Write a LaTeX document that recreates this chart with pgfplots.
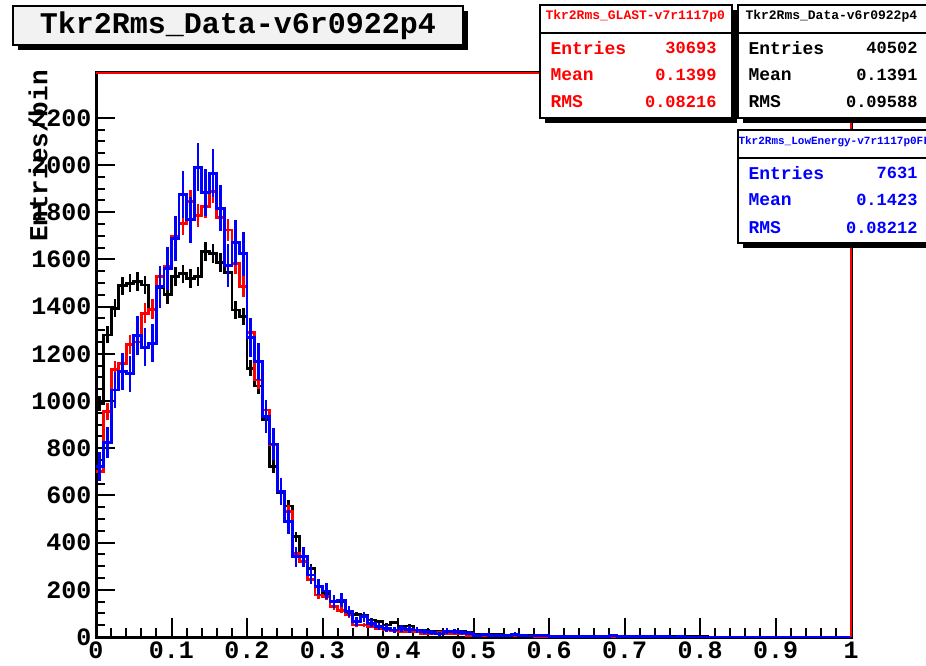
\documentclass[border=0pt]{standalone}
\usepackage{pgfplots}
\pgfplotsset{compat=1.18}
\usepackage{pgfplotstable}
\usepackage{fontspec}
\setmainfont{Liberation Mono}

% bin low edge, black = Data, red = GLAST, blue = LowEnergy
\pgfplotstableread{
x k r b
0.00 990 700 722
0.01 1280 955 824
0.02 1393 1132 1047
0.03 1488 1160 1125
0.04 1499 1238 1115
0.05 1506 1250 1276
0.06 1492 1372 1228
0.07 1386 1389 1245
0.08 1480 1527 1485
0.09 1450 1570 1560
0.10 1527 1697 1690
0.11 1539 1753 1874
0.12 1520 1845 1768
0.13 1527 1785 1991
0.14 1633 1824 1883
0.15 1624 1888 1965
0.16 1587 1779 1817
0.17 1545 1725 1573
0.18 1386 1584 1672
0.19 1358 1485 1624
0.20 1139 1290 1270
0.21 1064 1089 1167
0.22 920 962 934
0.23 722 814 818
0.24 612 616 616
0.25 555 531 489
0.26 425 355 340
0.27 340 319 340
0.28 291 242 263
0.29 213 178 213
0.30 186 171 195
0.31 150 128 150
0.32 150 114 157
0.33 100 93 107
0.34 97 51 65
0.35 93 51 86
0.36 72 44 58
0.37 65 37 44
0.38 51 30 37
0.39 62 27 30
0.40 44 23 37
0.41 47 23 32
0.42 30 23 30
0.43 27 16 23
0.44 23 16 18
0.45 23 18 13
0.46 18 16 25
0.47 16 13 23
0.48 23 13 18
0.49 18 8 16
0.50 13 8 8
0.51 12 7 10
0.52 10 6 8
0.53 9 6 6
0.54 8 5 7
0.55 7 5 12
0.56 6 4 5
0.57 6 4 4
0.58 5 3 5
0.59 5 3 8
0.60 4 3 3
0.61 4 2 3
0.62 3 2 2
0.63 3 2 2
0.64 3 2 3
0.65 3 1 2
0.66 2 1 2
0.67 2 1 3
0.68 2 1 8
0.69 2 1 3
0.70 2 1 2
0.71 2 1 1
0.72 1 1 2
0.73 1 1 1
0.74 1 1 1
0.75 1 0 1
0.76 1 0 0
0.77 1 0 1
0.78 1 0 0
0.79 1 0 0
0.80 1 0 0
0.81 0 0 0
0.82 0 0 0
0.83 0 0 0
0.84 0 0 0
0.85 0 0 0
0.86 0 0 0
0.87 0 0 0
0.88 0 0 0
0.89 0 0 0
0.90 0 0 0
0.91 0 0 0
0.92 0 0 0
0.93 0 0 0
0.94 0 0 0
0.95 0 0 0
0.96 0 0 0
0.97 0 0 0
0.98 0 0 0
0.99 0 0 0
1.00 0 0 0
}\hist

\definecolor{rootred}{RGB}{255,0,0}
\definecolor{rootblue}{RGB}{0,0,255}
\definecolor{titlefill}{RGB}{242,242,242}

\begin{document}
\begin{tikzpicture}[x=1pt,y=1pt]
\useasboundingbox (0pt,0pt) rectangle (926pt,665pt);
\clip (0pt,0pt) rectangle (926pt,665pt);

\begin{axis}[
  at={(96pt,28pt)}, anchor=south west,
  scale only axis, width=755pt, height=564pt,
  xmin=0, xmax=1, ymin=0, ymax=2390,
  xtick={0,0.1,...,1.0},
  xticklabels={0,0.1,0.2,0.3,0.4,0.5,0.6,0.7,0.8,0.9,1},
  ytick={0,200,...,2200},
  minor x tick num=4, minor y tick num=3,
  xtick pos=left, ytick pos=left,
  tick align=inside,
  major tick length=19pt, minor tick length=9pt,
  tick style={black, line width=2pt},
  axis line style={line width=3pt},
  /pgf/number format/assume math mode=true,
  /pgf/number format/1000 sep={},
  tick label style={font=\fontsize{25}{25}\selectfont\bfseries},
  yticklabel style={xshift=-1pt},
  xticklabel style={yshift=-1.5pt},
  clip=false,
]
% black: Data
\addplot[black, line width=2.8pt, const plot] table[x=x, y=k] {\hist};
\addplot[draw=none, mark=none, error bars/.cd, y dir=both, y explicit,
  error mark=none, error bar style={draw=black, line width=2.6pt}]
  table[x expr=\thisrow{x}+0.005, y=k, y error expr={sqrt(\thisrow{k})}] {\hist};
% red: GLAST
\addplot[rootred, line width=2.8pt, const plot] table[x=x, y=r] {\hist};
\addplot[draw=none, mark=none, error bars/.cd, y dir=both, y explicit,
  error mark=none, error bar style={draw=rootred, line width=2.6pt}]
  table[x expr=\thisrow{x}+0.005, y=r, y error expr={sqrt(1.3196*\thisrow{r})}] {\hist};
% blue: LowEnergy
\addplot[rootblue, line width=2.8pt, const plot] table[x=x, y=b] {\hist};
\addplot[draw=none, mark=none, error bars/.cd, y dir=both, y explicit,
  error mark=none, error bar style={draw=rootblue, line width=2.6pt}]
  table[x expr=\thisrow{x}+0.005, y=b, y error expr={sqrt(5.3075*\thisrow{b})}] {\hist};
% second (red) frame
\draw[rootred, line width=2.2pt] (rel axis cs:0,1) -- (rel axis cs:1,1) -- (rel axis cs:1,0);
\end{axis}

% y label
\node[rotate=90, anchor=east, inner sep=0pt, font=\fontsize{26}{26}\selectfont\bfseries]
  at (38pt,595pt) {Entries/bin};

% title box
\fill[black] (18pt,615pt) rectangle (468pt,654pt);
\draw[line width=1.5pt, fill=titlefill] (13pt,620pt) rectangle (463pt,659pt);
\node[font=\fontsize{30}{30}\selectfont\bfseries] at (238pt,639.5pt) {Tkr2Rms\_Data-v6r0922p4};

% stats box: GLAST (red)
\fill[black] (545pt,542pt) rectangle (737pt,655pt);
\draw[line width=1.5pt, fill=white] (540pt,547pt) rectangle (732pt,660pt);
\draw[line width=1.5pt] (540pt,632pt) -- (732pt,632pt);
\begin{scope}[rootred]
\node[anchor=west, font=\fontsize{13}{13}\selectfont\bfseries] at (542pt,649pt) {Tkr2Rms\_GLAST-v7r1117p0};
\node[anchor=west, font=\fontsize{18}{18}\selectfont\bfseries] at (547pt,617pt) {Entries};
\node[anchor=west, font=\fontsize{18}{18}\selectfont\bfseries] at (547pt,590pt) {Mean};
\node[anchor=west, font=\fontsize{18}{18}\selectfont\bfseries] at (547pt,563pt) {RMS};
\node[anchor=east, font=\fontsize{17}{17}\selectfont\bfseries] at (720pt,617pt) {30693};
\node[anchor=east, font=\fontsize{17}{17}\selectfont\bfseries] at (720pt,590pt) {0.1399};
\node[anchor=east, font=\fontsize{17}{17}\selectfont\bfseries] at (720pt,563pt) {0.08216};
\end{scope}

% stats box: Data (black)
\fill[black] (743pt,542pt) rectangle (935pt,655pt);
\draw[line width=1.5pt, fill=white] (738pt,547pt) rectangle (930pt,660pt);
\draw[line width=1.5pt] (738pt,632pt) -- (930pt,632pt);
\node[anchor=west, font=\fontsize{13}{13}\selectfont\bfseries] at (742pt,649pt) {Tkr2Rms\_Data-v6r0922p4};
\node[anchor=west, font=\fontsize{18}{18}\selectfont\bfseries] at (745pt,617pt) {Entries};
\node[anchor=west, font=\fontsize{18}{18}\selectfont\bfseries] at (745pt,590pt) {Mean};
\node[anchor=west, font=\fontsize{18}{18}\selectfont\bfseries] at (745pt,563pt) {RMS};
\node[anchor=east, font=\fontsize{17}{17}\selectfont\bfseries] at (921pt,617pt) {40502};
\node[anchor=east, font=\fontsize{17}{17}\selectfont\bfseries] at (921pt,590pt) {0.1391};
\node[anchor=east, font=\fontsize{17}{17}\selectfont\bfseries] at (921pt,563pt) {0.09588};

% stats box: LowEnergy (blue)
\fill[black] (743pt,417pt) rectangle (935pt,530pt);
\draw[line width=1.5pt, fill=white] (738pt,422pt) rectangle (930pt,535pt);
\draw[line width=1.5pt] (738pt,507pt) -- (930pt,507pt);
\begin{scope}[rootblue]
\node[anchor=west, font=\fontsize{11}{11}\selectfont\bfseries] at (735pt,523pt) {Tkr2Rms\_LowEnergy-v7r1117p0FL};
\node[anchor=west, font=\fontsize{18}{18}\selectfont\bfseries] at (745pt,492pt) {Entries};
\node[anchor=west, font=\fontsize{18}{18}\selectfont\bfseries] at (745pt,465pt) {Mean};
\node[anchor=west, font=\fontsize{18}{18}\selectfont\bfseries] at (745pt,437pt) {RMS};
\node[anchor=east, font=\fontsize{17}{17}\selectfont\bfseries] at (921pt,492pt) {7631};
\node[anchor=east, font=\fontsize{17}{17}\selectfont\bfseries] at (921pt,465pt) {0.1423};
\node[anchor=east, font=\fontsize{17}{17}\selectfont\bfseries] at (921pt,437pt) {0.08212};
\end{scope}
\end{tikzpicture}
\end{document}
